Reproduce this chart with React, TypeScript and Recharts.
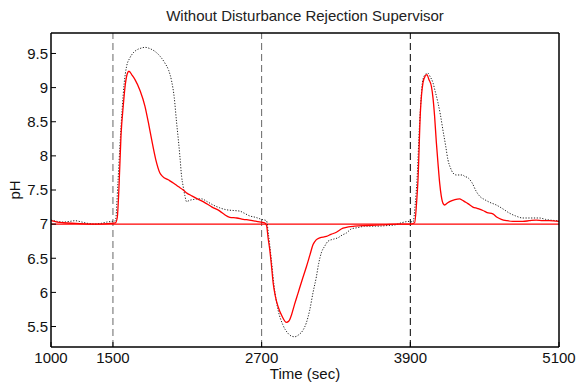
import React from 'react'
import { LineChart, Line, XAxis, YAxis, ReferenceLine } from 'recharts'

const xTicks = [1000, 1500, 2700, 3900, 5100]
const yTicks = [5.5, 6, 6.5, 7, 7.5, 8, 8.5, 9, 9.5]
const disturbances = [1500, 2700, 3900]
const setpoint = 7

// red curve (solid)
const redTime = [
  1000, 1050, 1100, 1200, 1300, 1400, 1480, 1520, 1535, 1550, 1565, 1583, 1600, 1615, 1629, 1655, 1677,
  1720, 1758, 1790, 1812, 1845, 1879, 1900, 1946, 1990, 2027, 2067, 2100, 2121, 2170, 2228, 2300, 2363,
  2400, 2443, 2500, 2551, 2600, 2659, 2725, 2740, 2752, 2766, 2780, 2793, 2810, 2833, 2865, 2900, 2920,
  2941, 2965, 2994, 3030, 3062, 3090, 3115, 3140, 3169, 3223, 3260, 3290, 3357, 3400, 3451, 3550, 3667,
  3800, 3900, 3935, 3950, 3962, 3981, 4002, 4020, 4034, 4050, 4070, 4083, 4096, 4110, 4123, 4137, 4150,
  4165, 4177, 4200, 4217, 4260, 4298, 4320, 4338, 4365, 4405, 4440, 4486, 4520, 4566, 4600, 4634, 4680,
  4727, 4808, 4860, 4916, 4970, 5023, 5100,
]
const redPH = [
  7.05, 7.03, 7.02, 7.01, 7.0, 7.0, 7.01, 7.02, 7.1, 7.6, 8.3, 8.73, 9.05, 9.2, 9.24, 9.18, 9.12,
  8.95, 8.73, 8.45, 8.24, 7.95, 7.75, 7.7, 7.65, 7.6, 7.55, 7.5, 7.45, 7.43, 7.38, 7.33, 7.25, 7.19,
  7.14, 7.1, 7.09, 7.07, 7.06, 7.04, 7.02, 6.98, 6.8, 6.62, 6.38, 6.14, 5.95, 5.79, 5.65, 5.56, 5.58,
  5.67, 5.82, 5.99, 6.2, 6.38, 6.55, 6.7, 6.77, 6.8, 6.82, 6.85, 6.87, 6.94, 6.96, 6.97, 6.98, 6.99,
  7.0, 7.0, 7.02, 7.3, 7.65, 8.63, 9.07, 9.17, 9.19, 9.12, 9.02, 8.85, 8.58, 8.2, 7.9, 7.6, 7.41,
  7.3, 7.28, 7.31, 7.33, 7.36, 7.37, 7.35, 7.33, 7.3, 7.25, 7.23, 7.2, 7.17, 7.15, 7.1, 7.07, 7.05,
  7.04, 7.04, 7.05, 7.06, 7.05, 7.05, 7.04,
]

// black curve (dotted)
const blackTime = [
  1000, 1050, 1100, 1150, 1194, 1250, 1300, 1350, 1400, 1450, 1490, 1520, 1540, 1556, 1575, 1590, 1610,
  1635, 1664, 1700, 1730, 1758, 1800, 1839, 1880, 1919, 1950, 1973, 1995, 2013, 2027, 2040, 2054, 2067,
  2080, 2094, 2120, 2148, 2180, 2215, 2260, 2309, 2360, 2417, 2470, 2524, 2560, 2604, 2650, 2699, 2739,
  2755, 2780, 2800, 2833, 2870, 2913, 2940, 2967, 3000, 3035, 3060, 3088, 3115, 3142, 3160, 3182, 3210,
  3236, 3280, 3316, 3350, 3384, 3424, 3480, 3532, 3620, 3720, 3780, 3828, 3895, 3922, 3940, 3954, 3975,
  4002, 4025, 4042, 4060, 4083, 4100, 4123, 4143, 4163, 4185, 4204, 4225, 4244, 4270, 4298, 4322, 4338,
  4365, 4400, 4432, 4465, 4499, 4540, 4594, 4650, 4701, 4750, 4808, 4870, 4943, 4990, 5023, 5100,
]
const blackPH = [
  7.06, 7.04, 7.03, 7.04, 7.05, 7.03, 7.01, 7.0, 7.01, 7.03, 7.04, 7.05, 7.6, 8.14, 8.7, 9.05, 9.31,
  9.43, 9.51, 9.56, 9.58, 9.59, 9.57, 9.53, 9.46, 9.36, 9.25, 9.1, 8.85, 8.5, 8.25, 8.0, 7.7, 7.55,
  7.42, 7.33, 7.35, 7.36, 7.37, 7.37, 7.33, 7.28, 7.24, 7.21, 7.2, 7.19, 7.16, 7.12, 7.1, 7.07, 7.05,
  6.85, 6.45, 6.1, 5.74, 5.53, 5.4, 5.36, 5.35, 5.38, 5.45, 5.55, 5.74, 6.0, 6.23, 6.42, 6.58, 6.68,
  6.75, 6.78, 6.8, 6.84, 6.87, 6.93, 6.95, 6.97, 6.97, 6.98, 6.99, 7.02, 7.04, 7.03, 7.3, 7.65, 8.48,
  9.12, 9.2, 9.21, 9.16, 9.07, 8.95, 8.78, 8.6, 8.38, 8.15, 7.94, 7.82, 7.75, 7.72, 7.72, 7.72, 7.7,
  7.68, 7.6, 7.48, 7.4, 7.36, 7.32, 7.28, 7.22, 7.16, 7.12, 7.09, 7.09, 7.09, 7.07, 7.06, 7.05,
]

const redData = redTime.map((t, i) => ({ t, ph: redPH[i] }))
const blackData = blackTime.map((t, i) => ({ t, ph: blackPH[i] }))

const font = 'Arial, "Liberation Sans", sans-serif'
const tickStyle = { fontSize: 15, fill: '#111', fontFamily: font }
const axisLine = { stroke: '#000', strokeWidth: 1.5 }

export default function App() {
  return (
    <div style={{ position: 'absolute', left: 0, top: 0, width: 577, height: 386, background: '#fff', fontFamily: font }}>
      <div style={{ position: 'absolute', left: 51, width: 508, top: 7, textAlign: 'center', fontSize: 15, lineHeight: '17px', color: '#222' }}>
        Without Disturbance Rejection Supervisor
      </div>
      <LineChart width={577} height={386} margin={{ top: 32, right: 17, bottom: 0, left: 0 }}>
        <XAxis
          dataKey="t"
          type="number"
          domain={[1000, 5100]}
          ticks={xTicks}
          stroke="#000"
          axisLine={axisLine}
          tickSize={-5}
          tickMargin={10}
          height={39}
          tick={tickStyle}
          label={{ value: 'Time (sec)', position: 'insideBottom', offset: 7, style: { fontSize: 15, fill: '#111', fontFamily: font } }}
        />
        <XAxis
          xAxisId="top"
          orientation="top"
          type="number"
          domain={[1000, 5100]}
          ticks={xTicks}
          stroke="#000"
          axisLine={axisLine}
          tickSize={-5}
          height={1}
          tickFormatter={() => ''}
        />
        <YAxis
          type="number"
          domain={[5.2, 9.8]}
          ticks={yTicks}
          stroke="#000"
          axisLine={axisLine}
          tickSize={-5}
          tickMargin={8}
          width={51}
          tick={tickStyle}
          label={{ value: 'pH', angle: -90, position: 'insideLeft', offset: 15, style: { textAnchor: 'middle', fontSize: 15, fill: '#111', fontFamily: font } }}
        />
        <YAxis
          yAxisId="right"
          orientation="right"
          type="number"
          domain={[5.2, 9.8]}
          ticks={yTicks}
          stroke="#000"
          axisLine={axisLine}
          tickSize={-5}
          width={1}
          tickFormatter={() => ''}
        />
        {disturbances.map((d) => (
          <ReferenceLine key={d} x={d} stroke={d === 3900 ? '#000' : '#666'} strokeDasharray="7 4" />
        ))}
        <ReferenceLine y={setpoint} stroke="#ff0000" strokeWidth={1.2} />
        <Line data={blackData} dataKey="ph" type="monotone" stroke="#222" strokeWidth={1} strokeDasharray="1.2 1.6" dot={false} isAnimationActive={false} />
        <Line data={redData} dataKey="ph" type="monotone" stroke="#ff0000" strokeWidth={1.3} dot={false} isAnimationActive={false} />
      </LineChart>
    </div>
  )
}
